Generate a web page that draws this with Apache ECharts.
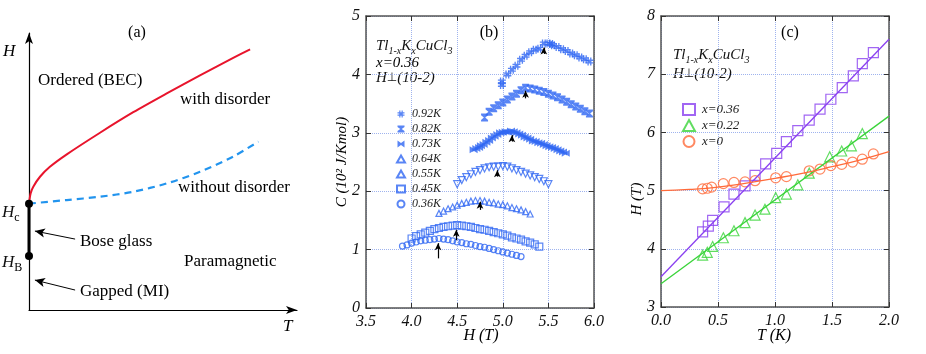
<!DOCTYPE html>
<html>
<head>
<meta charset="utf-8">
<script src="https://cdn.jsdelivr.net/npm/echarts@6/dist/echarts.min.js"></script>
<style>
html, body { margin: 0; padding: 0; background: #fff; }
#chart { width: 926px; height: 354px; }
</style>
</head>
<body>
<div id="chart"></div>
<script>
// (a) schematic phase diagram, arbitrary units 0-100 on both axes
const redCurve = [[0, 38.4], [0.6, 42.1], [1.6, 44.5], [4.1, 48.1], [7.8, 51.7], [14.1, 56.2], [26.5, 64.0],
  [38.9, 71.4], [51.4, 78.2], [63.8, 84.7], [76.2, 91.0], [82.5, 94.1]]
const blueCurve = [[0, 38.4], [14.1, 39.7], [26.5, 40.9], [38.9, 42.7], [51.4, 45.7], [63.8, 49.9], [76.2, 55.4], [85.6, 60.8]]
const boseSegment = [[0, 38.4], [0, 19.5]]
const arrowsA = [[17.2, 25.6, 2.2, 28.5], [17.2, 7.2, 2.2, 10.8]]

// (b) specific heat vs field, one list per temperature
const b092 = [[4.99, 3.82], [4.99, 3.88], [5.05, 4.0], [5.1, 4.08], [5.15, 4.15], [5.2, 4.25], [5.25, 4.32], [5.3, 4.38],
  [5.35, 4.42], [5.4, 4.44], [5.45, 4.53], [5.5, 4.53], [5.53, 4.52], [5.55, 4.5], [5.6, 4.47], [5.65, 4.43],
  [5.7, 4.4], [5.75, 4.36], [5.8, 4.33], [5.85, 4.29], [5.9, 4.26], [5.95, 4.22]]
const b082 = [[4.8, 3.26], [4.85, 3.36], [4.9, 3.42], [4.95, 3.47], [5.0, 3.52], [5.05, 3.57], [5.1, 3.62], [5.15, 3.67],
  [5.2, 3.73], [5.25, 3.77], [5.3, 3.76], [5.35, 3.74], [5.4, 3.72], [5.45, 3.7], [5.5, 3.67], [5.55, 3.64],
  [5.6, 3.61], [5.65, 3.57], [5.7, 3.53], [5.75, 3.49], [5.8, 3.45], [5.85, 3.41], [5.9, 3.37], [5.95, 3.33]]
const b073 = [[4.68, 2.71], [4.71, 2.73], [4.74, 2.75], [4.76, 2.78], [4.79, 2.8], [4.82, 2.84], [4.85, 2.87], [4.88, 2.91],
  [4.91, 2.94], [4.94, 2.97], [4.97, 3.0], [5.0, 3.01], [5.03, 3.02], [5.06, 3.01], [5.09, 3.03], [5.12, 3.02],
  [5.15, 3.0], [5.18, 2.98], [5.21, 2.96], [5.24, 2.93], [5.27, 2.91], [5.3, 2.89], [5.33, 2.86], [5.36, 2.85],
  [5.39, 2.83], [5.42, 2.82], [5.45, 2.8], [5.48, 2.78], [5.51, 2.76], [5.54, 2.75], [5.57, 2.73], [5.6, 2.71],
  [5.63, 2.69], [5.66, 2.67], [5.69, 2.65]]
const b064 = [[4.5, 2.12], [4.55, 2.19], [4.6, 2.24], [4.65, 2.29], [4.7, 2.33], [4.75, 2.36], [4.8, 2.39], [4.85, 2.41],
  [4.9, 2.42], [4.95, 2.42], [5.0, 2.43], [5.05, 2.42], [5.1, 2.39], [5.15, 2.36], [5.2, 2.33], [5.25, 2.3],
  [5.3, 2.27], [5.35, 2.24], [5.4, 2.21], [5.45, 2.17], [5.5, 2.12]]
const b055 = [[4.3, 1.62], [4.35, 1.66], [4.4, 1.7], [4.45, 1.73], [4.5, 1.76], [4.55, 1.79], [4.6, 1.81], [4.65, 1.83],
  [4.7, 1.84], [4.75, 1.84], [4.8, 1.83], [4.85, 1.81], [4.9, 1.8], [4.95, 1.78], [5.0, 1.77], [5.05, 1.75],
  [5.1, 1.72], [5.15, 1.7], [5.2, 1.68], [5.25, 1.65], [5.3, 1.61]]
const b045 = [[4.0, 1.19], [4.05, 1.23], [4.1, 1.26], [4.15, 1.29], [4.2, 1.32], [4.25, 1.35], [4.3, 1.37], [4.35, 1.39],
  [4.4, 1.4], [4.45, 1.41], [4.5, 1.42], [4.55, 1.41], [4.6, 1.4], [4.65, 1.39], [4.7, 1.37], [4.75, 1.35],
  [4.8, 1.34], [4.85, 1.32], [4.9, 1.3], [4.95, 1.28], [5.0, 1.26], [5.05, 1.24], [5.1, 1.21], [5.15, 1.19],
  [5.2, 1.17], [5.25, 1.14], [5.3, 1.12], [5.35, 1.09], [5.4, 1.05]]
const b036 = [[3.9, 1.06], [3.95, 1.08], [4.0, 1.11], [4.05, 1.13], [4.1, 1.15], [4.15, 1.16], [4.2, 1.17], [4.25, 1.18],
  [4.3, 1.19], [4.35, 1.18], [4.4, 1.17], [4.45, 1.15], [4.5, 1.13], [4.55, 1.12], [4.6, 1.1], [4.65, 1.09],
  [4.7, 1.07], [4.75, 1.05], [4.8, 1.04], [4.85, 1.02], [4.9, 1.0], [4.95, 0.98], [5.0, 0.96], [5.05, 0.94],
  [5.1, 0.92], [5.15, 0.9], [5.2, 0.88]]
// peak markers: [H, C from, C to]
const arrowsB = [[4.29, 0.85, 1.11], [4.49, 1.16, 1.34], [4.75, 1.68, 1.82], [4.94, 2.25, 2.36],
  [5.1, 2.85, 2.96], [5.25, 3.59, 3.72], [5.45, 4.35, 4.46]]

// (c) transition field vs temperature
const c036 = [[0.365, 4.29], [0.415, 4.39], [0.453, 4.49], [0.553, 4.72], [0.64, 4.94], [0.737, 5.08], [0.825, 5.26],
  [0.918, 5.46], [1.015, 5.64], [1.1, 5.84], [1.2, 6.03], [1.3, 6.21], [1.395, 6.4], [1.49, 6.57], [1.59, 6.77],
  [1.687, 6.97], [1.766, 7.18], [1.863, 7.37]]
const c022 = [[0.365, 3.89], [0.406, 3.94], [0.453, 4.04], [0.547, 4.19], [0.64, 4.31], [0.737, 4.45], [0.825, 4.58],
  [0.912, 4.68], [1.006, 4.88], [1.1, 4.94], [1.2, 5.1], [1.3, 5.3], [1.48, 5.58], [1.585, 5.68], [1.67, 5.77], [1.766, 5.98]]
const c000 = [[0.365, 5.03], [0.406, 5.04], [0.444, 5.06], [0.547, 5.12], [0.64, 5.14], [0.737, 5.15], [0.825, 5.17],
  [1.006, 5.22], [1.1, 5.24], [1.3, 5.34], [1.395, 5.37], [1.49, 5.43], [1.585, 5.45], [1.68, 5.49], [1.766, 5.54], [1.863, 5.63]]
const fit036 = [[0, 3.52], [2, 7.6]]
const fit022 = [[0, 3.4], [2, 6.28]]
const fit000 = [[0, 5.0], [0.25, 5.02], [0.5, 5.06], [0.75, 5.13], [1.0, 5.21], [1.25, 5.3], [1.5, 5.41], [1.75, 5.53], [2.0, 5.67]]

const serif = '"Liberation Serif", "Times New Roman", serif'
const blue = '#2f66f2'
const purple = '#8a40f0'
const green = '#3ad43a'
const orange = '#ff6a3a'

const hashPath = 'path://M3,0h2v3h2v-3h2v3h3v2h-3v2h3v2h-3v3h-2v-3h-2v3h-2v-3h-3v-2h3v-2h-3v-2h3z'
const hourglassPath = 'path://M0,0H10V2L6,5L10,8V10H0V8L4,5L0,2Z'
const bowtiePath = 'path://M0,0L5,3.5L10,0V10L5,6.5L0,10Z'

const chart = echarts.init(document.getElementById('chart'))

// framed axes for panels b and c
const frameLine = { show: true, onZero: false, lineStyle: { color: '#555', width: 1.5 } }
const tickIn = { show: true, inside: true, length: 5, lineStyle: { color: '#333' } }
const tickLabel = { fontFamily: serif, fontStyle: 'italic', fontSize: 16, color: '#111' }
const dotted = { show: true, lineStyle: { type: 'dotted', color: '#9fb3ee', width: 1 } }
const boxAxis = (grid, pos, min, max, interval, labels, digits) => ({
  type: 'value', gridIndex: grid, position: pos, min, max, interval,
  axisLine: frameLine, axisTick: tickIn,
  axisLabel: labels ? Object.assign({ margin: 6, formatter: v => v.toFixed(digits) }, tickLabel) : { show: false },
  splitLine: labels ? dotted : { show: false }
})
const arrowAxis = {
  type: 'value', gridIndex: 0, min: 0, max: 100,
  axisLine: { show: true, onZero: false, symbol: ['none', 'arrow'], symbolSize: [6, 11], lineStyle: { color: '#000', width: 1.2 } },
  axisTick: { show: false }, axisLabel: { show: false }, splitLine: { show: false }
}

const txt = (x, y, text, size, extra) => ({
  type: 'text', x, y, silent: true,
  style: Object.assign({
    text, fontFamily: serif, fontSize: size, fill: '#000',
    align: 'left', verticalAlign: 'middle', textAlign: 'left', textVerticalAlign: 'middle'
  }, extra)
})
const subRich = (main, sub) => ({
  n: { fontFamily: serif, fontStyle: 'italic', fontSize: main, fill: '#111' },
  s: { fontFamily: serif, fontStyle: 'italic', fontSize: sub, fill: '#111', padding: [10, 0, 0, 0] },
  u: { fontFamily: serif, fontStyle: 'normal', fontSize: sub + 1, fill: '#000', padding: [10, 0, 0, 0] },
  p: { fontFamily: '"DejaVu Sans"', fontSize: main - 3, fill: '#111' }
})
const center = { align: 'center', textAlign: 'center' }
const perpText = '{n|H}{p|\u22a5}{n|(10-2)}'

const openStyle = c => ({ color: 'rgba(255,255,255,0)', borderColor: c, borderWidth: 1.2 })
const scat = (name, data, symbol, size, style, axis, extra) => Object.assign({
  name, type: 'scatter', data, symbol, symbolSize: size, itemStyle: style,
  xAxisIndex: axis, yAxisIndex: axis
}, extra)

chart.setOption({
  animation: false,
  backgroundColor: '#fff',
  grid: [
    { left: 29, top: 33, width: 268, height: 277 },
    { left: 366, top: 16, width: 228, height: 292 },
    { left: 661, top: 16, width: 228, height: 291 }
  ],
  xAxis: [
    arrowAxis,
    boxAxis(1, 'bottom', 3.5, 6, 0.5, true, 1), boxAxis(1, 'top', 3.5, 6, 0.5, false),
    boxAxis(2, 'bottom', 0, 2, 0.5, true, 1), boxAxis(2, 'top', 0, 2, 0.5, false)
  ],
  yAxis: [
    arrowAxis,
    boxAxis(1, 'left', 0, 5, 1, true, 0), boxAxis(1, 'right', 0, 5, 1, false),
    boxAxis(2, 'left', 3, 8, 1, true, 0), boxAxis(2, 'right', 3, 8, 1, false)
  ],
  legend: [
    {
      orient: 'vertical', left: 391, top: 103, itemWidth: 8, itemHeight: 7, itemGap: 3, selectedMode: false,
      data: ['0.92K', '0.82K', '0.73K', '0.64K', '0.55K', '0.45K', '0.36K'],
      textStyle: { fontFamily: serif, fontStyle: 'italic', fontSize: 12, color: '#222', lineHeight: 8, padding: [0, 0, 0, 2] }
    },
    {
      orient: 'vertical', left: 677, top: 98, itemWidth: 12, itemHeight: 11, itemGap: 3, selectedMode: false,
      data: ['x=0.36', 'x=0.22', 'x=0'],
      textStyle: { fontFamily: serif, fontStyle: 'italic', fontSize: 13, color: '#222', lineHeight: 11, padding: [0, 0, 0, 2] }
    }
  ],
  series: [
    // (a)
    { type: 'line', data: redCurve, smooth: 0.3, showSymbol: false, lineStyle: { color: '#e8142c', width: 2 } },
    { type: 'line', data: blueCurve, smooth: 0.3, showSymbol: false, lineStyle: { color: '#2294ee', width: 2.2, type: [7, 5] } },
    {
      type: 'line', data: boseSegment, symbol: 'circle', symbolSize: 8, itemStyle: { color: '#000' },
      lineStyle: { color: '#000', width: 3 },
      markLine: {
        silent: true, symbol: ['none', 'arrow'], symbolSize: [7, 10], label: { show: false },
        lineStyle: { color: '#000', width: 1, type: 'solid' },
        data: arrowsA.map(a => [{ coord: [a[0], a[1]] }, { coord: [a[2], a[3]] }])
      }
    },
    // (b)
    scat('0.92K', b092, hashPath, 8, { color: blue }, 1, {
      markLine: {
        silent: true, symbol: ['none', 'arrow'], symbolSize: [5, 7], label: { show: false },
        lineStyle: { color: '#000', width: 1.2, type: 'solid' },
        data: arrowsB.map(a => [{ coord: [a[0], a[1]] }, { coord: [a[0], a[2]] }])
      }
    }),
    scat('0.82K', b082, hourglassPath, [7, 8], { color: blue }, 1),
    scat('0.73K', b073, bowtiePath, [8, 7], { color: blue }, 1),
    scat('0.64K', b064, 'triangle', 7, openStyle(blue), 1, { symbolRotate: 180 }),
    scat('0.55K', b055, 'triangle', 6, openStyle(blue), 1),
    scat('0.45K', b045, 'rect', 7, openStyle(blue), 1),
    scat('0.36K', b036, 'circle', 6, openStyle(blue), 1),
    // (c)
    { type: 'line', data: fit036, showSymbol: false, xAxisIndex: 3, yAxisIndex: 3, lineStyle: { color: purple, width: 1.3 } },
    { type: 'line', data: fit022, showSymbol: false, xAxisIndex: 3, yAxisIndex: 3, lineStyle: { color: green, width: 1.3 } },
    { type: 'line', data: fit000, smooth: true, showSymbol: false, xAxisIndex: 3, yAxisIndex: 3, lineStyle: { color: orange, width: 1.3 } },
    scat('x=0.36', c036, 'rect', 10, openStyle(purple), 3),
    scat('x=0.22', c022, 'triangle', 10, openStyle(green), 3),
    scat('x=0', c000, 'circle', 10, openStyle(orange), 3)
  ],
  graphic: [
    // (a)
    txt(137, 33, '(a)', 16, center),
    txt(3, 52, 'H', 17, { fontStyle: 'italic' }),
    txt(283, 327, 'T', 17, { fontStyle: 'italic' }),
    txt(38, 81, 'Ordered (BEC)', 17),
    txt(180, 100, 'with disorder', 17),
    txt(178, 188, 'without disorder', 17),
    txt(80, 242, 'Bose glass', 17),
    txt(184, 262, 'Paramagnetic', 17),
    txt(80, 292, 'Gapped (MI)', 17),
    txt(2, 213, '{n|H}{u|c}', 17, { rich: subRich(17, 11) }),
    txt(2, 263, '{n|H}{u|B}', 17, { rich: subRich(17, 11) }),
    // (b)
    txt(489, 33, '(b)', 16, center),
    txt(376, 46, '{n|Tl}{s|1-x}{n|K}{s|x}{n|CuCl}{s|3}', 15, { rich: subRich(15, 10) }),
    txt(376, 63, 'x=0.36', 15, { fontStyle: 'italic' }),
    txt(376, 78, perpText, 15, { rich: subRich(15, 10) }),
    txt(481, 336, 'H (T)', 16, Object.assign({ fontStyle: 'italic' }, center)),
    txt(342, 162, 'C (10\u00b2 J/Kmol)', 15, Object.assign({ fontStyle: 'italic' }, center)),
    // (c)
    txt(790, 33, '(c)', 16, center),
    txt(673, 55, '{n|Tl}{s|1-x}{n|K}{s|x}{n|CuCl}{s|3}', 15, { rich: subRich(15, 10) }),
    txt(673, 74, perpText, 15, { rich: subRich(15, 10) }),
    txt(774, 336, 'T (K)', 16, Object.assign({ fontStyle: 'italic' }, center)),
    txt(637, 199, 'H (T)', 15, Object.assign({ fontStyle: 'italic' }, center))
  ].map((g, i) => (i === 16 || i === 21) ? Object.assign(g, { rotation: Math.PI / 2 }) : g)
})
</script>
</body>
</html>
